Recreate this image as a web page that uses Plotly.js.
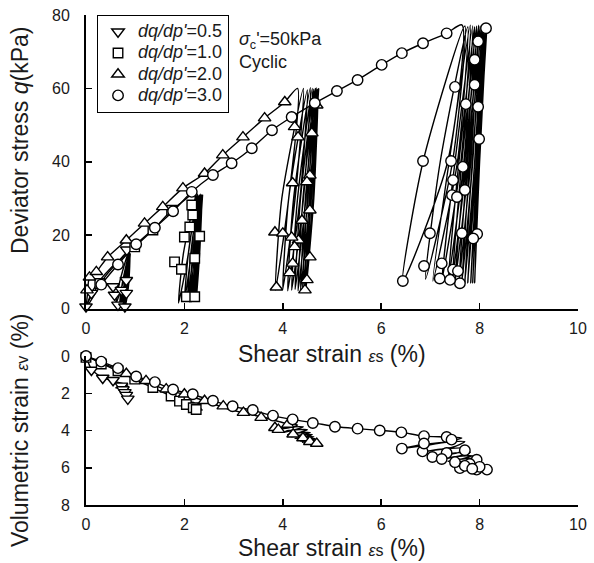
<!DOCTYPE html>
<html><head><meta charset="utf-8">
<script src="https://cdn.plot.ly/plotly-3.0.1.min.js"></script>
<style>html,body{margin:0;padding:0;background:#fff}</style>
</head><body><div id="chart" style="width:594px;height:563px"></div>
<script>
// ---------- tick values / labels ----------
const xTickVals = [0, 2, 4, 6, 8, 10];
const qTickVals = [0, 20, 40, 60, 80];
const evTickVals = [0, 2, 4, 6, 8];
const seriesNames = ["<i>dq/dp'</i>=0.5", "<i>dq/dp'</i>=1.0", "<i>dq/dp'</i>=2.0", "<i>dq/dp'</i>=3.0"];

// ---------- dq/dp' = 0.5 (inverted triangles) ----------
const s05LineEs = [0,0.11,0.3,0.5,0.7,0.85, 0.75,0.60,0.68,0.86, 0.79,0.68,0.74,0.87, 0.82,0.72,0.78,0.88, 0.84,0.75,0.80,0.885, 0.85,0.77,0.82,0.89, 0.86,0.79,0.83,0.895, 0.87,0.81,0.85,0.90];
const s05LineQ  = [0,4.2,8,11,13.5,15.5, 7,1,7,15.2, 7,0.8,7,14.8, 7,1.2,7,15, 7,1,7,15.2, 7,0.8,7,14.8, 7,1,7,15, 7,1,7,15];
const s05LineEv = [0,0.7,1.1,1.3,1.45,1.55, 1.65,1.7,1.72,1.75, 1.8,1.84,1.86,1.88, 1.92,1.95,1.97,1.99, 2.02,2.05,2.07,2.09, 2.12,2.15,2.17,2.19, 2.21,2.24,2.26,2.28, 2.3,2.32,2.33,2.34];
const s05MarkEsQ = [0,0.11,0.55,0.58,0.72,0.82,0.65,0.79,0.82,0.83];
const s05MarkQ   = [0.5,4.2,6,3.7,5,4.2,1,0.5,7.7,16];
const s05MarkEsV = [0.11,0.34,0.55,0.72,0.75,0.79,0.82,0.85];
const s05MarkEv  = [0.75,1.18,1.3,1.6,1.8,1.95,2.1,2.3];

// ---------- dq/dp' = 1.0 (squares) ----------
const s10LineEs = [0,0.05,0.28,0.6,0.99,1.36,1.74,2.0,2.2, 2.08,1.88,1.98,2.24, 2.14,2.0,2.08,2.27, 2.18,2.06,2.13,2.29, 2.21,2.10,2.17,2.31, 2.24,2.14,2.20,2.33, 2.26,2.17,2.23,2.34, 2.28,2.20,2.25,2.35, 2.30,2.22,2.27,2.36, 2.31,2.24,2.29,2.37];
const s10LineQ  = [0,2,6.8,12,16.8,21.4,26.8,29.5,31.5, 15,1.5,15,31, 15,2,15,31.2, 15,2.2,15,30.8, 15,1.8,15,31, 15,2,15,31.2, 15,2.2,15,30.8, 15,2,15,31, 15,2,15,31, 15,2,15,31];
const s10LineEv = [0,0.05,0.35,0.75,1.25,1.7,2.15,2.4,2.5, 2.55,2.6,2.6,2.62, 2.64,2.66,2.67,2.68, 2.7,2.71,2.72,2.73, 2.74,2.75,2.76,2.77, 2.78,2.79,2.8,2.8, 2.81,2.82,2.83,2.83, 2.84,2.85,2.85,2.86, 2.86,2.87,2.87,2.88, 2.88,2.89,2.89,2.9];
const s10MarkEsQ = [0.28,0.99,1.36,1.74,2.15,2.17,2.11,2.0,2.31,1.8,1.94,2.21,2.04,2.21];
const s10MarkQ   = [6.8,16.8,21.4,26.8,28.2,25.5,22.2,19.5,19.7,12.7,10.7,13.7,3.2,3.2];
const s10MarkEsV = [0,0.31,0.65,0.99,1.36,1.73,1.9,2.04,2.18,2.24];
const s10MarkEv  = [0.07,0.43,0.79,1.24,1.69,2.15,2.42,2.6,2.78,2.87];

// ---------- dq/dp' = 2.0 (triangles) ----------
const s20LineEs = [0,0.03,0.07,0.21,0.44,0.82,1.19,1.56,1.97,2.41,2.78,3.19,3.63,4.04,4.3,
  4.12,3.85,3.98,4.42, 4.25,4.0,4.12,4.50, 4.35,4.10,4.22,4.56, 4.42,4.18,4.30,4.60, 4.47,4.25,4.36,4.63,
  4.51,4.31,4.41,4.66, 4.55,4.36,4.46,4.68, 4.58,4.40,4.50,4.70, 4.61,4.44,4.54,4.72, 4.63,4.47,4.57,4.73];
const s20LineQ  = [0,4,8.5,10,14,18.6,23.2,27.7,32.8,36.8,41.8,46.7,51.9,56.3,60,
  30,5,30,60, 30,5.2,30,59.6, 30,4.8,30,60.2, 30,5,30,60, 30,5.2,30,59.8,
  30,4.8,30,60, 30,5,30,60.2, 30,5,30,59.8, 30,5,30,60, 30,5,30,60];
const s20LineEv = [0,0.05,0.1,0.25,0.5,0.9,1.3,1.75,2.05,2.4,2.75,3.05,3.3,3.6,3.7,
  3.85,3.95,3.85,3.8, 3.95,4.1,4.0,3.95, 4.1,4.22,4.15,4.1, 4.22,4.33,4.27,4.22, 4.33,4.43,4.37,4.33,
  4.42,4.5,4.45,4.42, 4.5,4.57,4.52,4.5, 4.57,4.63,4.6,4.58, 4.64,4.68,4.66,4.7, 4.7,4.73,4.71,4.72];
const s20MarkEsQ = [0.02,0.07,0.21,0.44,0.82,1.19,1.56,1.97,2.41,2.78,3.19,3.63,4.04,
  3.84,3.87,4.0,4.2,4.24,4.31,4.59,4.69,4.55,4.49,4.55,4.39,4.32,4.18,4.24,4.2,4.55,4.14,4.49,4.45];
const s20MarkQ   = [5,8.5,10,14,18.6,23.2,27.7,32.8,36.8,41.8,46.7,51.9,56.3,
  20.8,5.8,20.5,34.2,49.5,46.7,47.8,55.4,36.3,34.5,26.8,24,18.6,19.4,16.8,12.3,14,9.7,7.8,5];
const s20MarkEsV = [0.82,1.22,1.63,2.0,2.41,2.79,3.2,3.56,3.84,3.91,4.1,4.21,4.41,4.55,4.69];
const s20MarkEv  = [0.95,1.33,1.78,2.05,2.4,2.69,3.04,3.31,3.85,3.95,3.68,4.2,4.4,4.6,4.7];

// ---------- dq/dp' = 3.0 (circles) ----------
const s30LineEs = [0,0.31,0.65,1.02,1.4,1.77,2.15,2.58,2.96,3.37,3.78,4.18,4.65,5.1,5.52,6.01,6.42,6.85,7.33,7.64,
  7.35,6.44,6.85,7.70, 7.45,6.90,7.20,7.76, 7.55,7.05,7.38,7.81, 7.62,7.23,7.50,7.86, 7.68,7.36,7.58,7.90,
  7.73,7.44,7.64,7.94, 7.78,7.50,7.70,7.98, 7.82,7.58,7.75,8.01, 7.86,7.64,7.80,8.04, 7.90,7.70,7.85,8.07,
  7.93,7.76,7.90,8.10, 7.96,7.82,7.95,8.13, 7.98,7.86,7.97,8.14, 8.00,7.90,7.99,8.15];
const s30LineQ  = [0,6.5,12,17.5,22,26.5,31.8,36.4,39.6,43.7,48.6,52.2,56,59.3,62.3,66.4,69.6,72.3,75,77.3,
  40,7.5,40,77, 40,8,40,76.8, 40,7.5,40,77.2, 40,7.5,40,77, 40,7.2,40,76.8,
  40,7.2,40,77, 40,7,40,77.2, 40,7,40,77, 40,7,40,76.8, 40,7,40,77,
  40,7,40,77.2, 40,7,40,77, 40,7,40,76.8, 40,7,40,77];
const s30LineEv = [0,0.3,0.65,1.1,1.4,1.8,2.05,2.4,2.7,2.9,3.2,3.4,3.6,3.8,3.9,4.0,4.1,4.3,4.35,4.4,
  4.6,4.97,4.75,4.6, 4.9,5.12,5.0,4.95, 5.2,5.42,5.25,5.15, 5.35,5.53,5.4,5.35, 5.5,5.65,5.55,5.5,
  5.62,5.75,5.66,5.6, 5.72,5.85,5.75,5.7, 5.8,5.92,5.84,5.8, 5.87,5.98,5.9,5.88, 5.93,6.03,5.96,5.94,
  5.98,6.07,6.0,5.98, 6.03,6.1,6.05,6.05, 6.06,6.11,6.08,6.08, 6.08,6.12,6.1,6.1];
const s30MarkEsQ = [0.31,0.65,1.02,1.4,1.77,2.15,2.58,2.96,3.37,3.78,4.18,4.65,5.1,5.52,6.01,6.42,6.85,7.33,
  7.5,7.97,7.9,7.9,7.72,7.97,7.99,6.85,7.42,7.66,7.46,7.7,7.44,7.54,6.99,7.64,7.95,7.87,6.44,6.87,7.23,7.19,7.46,7.56,7.6,7.4,8.13];
const s30MarkQ   = [6.5,12,17.5,22,26.5,31.8,36.4,39.6,43.7,48.6,52.2,56,59.3,62.3,66.4,69.6,72.3,75,
  60.4,72.8,67.8,61,55.7,55,46.2,40.2,40.2,38.6,35,32.3,30.9,30.4,20.5,20.5,20.3,19.1,7.5,11.6,12.3,8.2,10.6,10.2,6.9,7.8,76.4];
const s30MarkEsV = [0,0.31,0.65,1.02,1.4,1.77,2.17,2.58,2.98,3.39,3.8,4.2,4.61,5.06,5.52,5.97,6.41,6.87,7.33,
  6.42,6.84,6.87,7.33,7.04,7.23,7.43,7.7,7.94,7.6,7.94,8.15,7.8,7.5,7.7,8.0,7.85];
const s30MarkEv  = [0,0.3,0.65,1.1,1.4,1.8,2.05,2.4,2.7,2.9,3.2,3.4,3.6,3.8,3.9,4.0,4.1,4.3,4.35,
  4.97,5.12,4.7,5.21,5.42,5.53,4.49,5.06,5.57,6.02,6.1,6.1,5.8,5.7,5.9,5.95,6.05];

// ---------- build traces ----------
const series = [
  {es:s05LineEs, q:s05LineQ, ev:s05LineEv, mq:[s05MarkEsQ,s05MarkQ], mv:[s05MarkEsV,s05MarkEv], sym:'triangle-down', size:11},
  {es:s10LineEs, q:s10LineQ, ev:s10LineEv, mq:[s10MarkEsQ,s10MarkQ], mv:[s10MarkEsV,s10MarkEv], sym:'square', size:9.5},
  {es:s20LineEs, q:s20LineQ, ev:s20LineEv, mq:[s20MarkEsQ,s20MarkQ], mv:[s20MarkEsV,s20MarkEv], sym:'triangle-up', size:11},
  {es:s30LineEs, q:s30LineQ, ev:s30LineEv, mq:[s30MarkEsQ,s30MarkQ], mv:[s30MarkEsV,s30MarkEv], sym:'circle', size:10.5}
];
const lineStyle = {color:'#000', width:1.4, shape:'spline', smoothing:0.7};
const traces = [];
series.forEach(s => {
  traces.push({x:s.es, y:s.q, xaxis:'x', yaxis:'y', mode:'lines', line:lineStyle, showlegend:false, hoverinfo:'skip'});
  traces.push({x:s.es, y:s.ev, xaxis:'x2', yaxis:'y2', mode:'lines', line:lineStyle, showlegend:false, hoverinfo:'skip'});
});
series.forEach((s, i) => {
  const mk = {symbol:s.sym, size:s.size, color:'#fff', line:{color:'#000', width:1.4}};
  traces.push({x:s.mq[0], y:s.mq[1], xaxis:'x', yaxis:'y', mode:'markers', marker:mk,
    name:"<span style='font-size:18px'>" + seriesNames[i] + "</span>", showlegend:true, cliponaxis:false});
  traces.push({x:s.mv[0], y:s.mv[1], xaxis:'x2', yaxis:'y2', mode:'markers', marker:mk, name:seriesNames[i], showlegend:false, cliponaxis:false});
});

const FONT = 'Liberation Sans, Arial, sans-serif';
const TXT = '#1a1a1a';
const axisCommon = {
  showline:true, linecolor:'#000', linewidth:2, ticks:'inside', ticklen:6, tickwidth:1.5, tickcolor:'#000',
  showgrid:false, zeroline:false, tickfont:{family:FONT, size:16, color:TXT}, mirror:false
};
const titleFont = {family:FONT, size:23, color:TXT};
const layout = {
  width:594, height:563, margin:{l:86, r:16, t:15, b:58},
  paper_bgcolor:'#fff', plot_bgcolor:'#fff',
  font:{family:FONT, color:TXT},
  xaxis: Object.assign({}, axisCommon, {domain:[0,1], range:[0,10], tickvals:xTickVals, anchor:'y', ticklabelstandoff:4}),
  yaxis: Object.assign({}, axisCommon, {domain:[0.401,1], range:[0,80], tickvals:qTickVals, anchor:'x', ticklabelstandoff:11}),
  xaxis2: Object.assign({}, axisCommon, {domain:[0,1], range:[0,10], tickvals:xTickVals, anchor:'y2', ticklabelstandoff:4}),
  yaxis2: Object.assign({}, axisCommon, {domain:[0,0.304], range:[8,0], tickvals:evTickVals, anchor:'x2', ticklabelstandoff:11}),
  showlegend:true,
  legend:{x:0.022, y:1.0, xanchor:'left', yanchor:'top', bgcolor:'#fff', bordercolor:'#000', borderwidth:1.2,
          font:{family:FONT, size:14, color:TXT}, tracegroupgap:0, itemwidth:30},
  annotations:[
    {text:"Shear strain <span style='font-size:16px'><i>ε</i>s</span> (%)", xref:'paper', yref:'paper', x:0.5, y:0.308, xanchor:'center', yanchor:'middle', showarrow:false, font:titleFont},
    {text:"Shear strain <span style='font-size:16px'><i>ε</i>s</span> (%)", xref:'paper', yref:'paper', x:0.5, y:-0.088, xanchor:'center', yanchor:'middle', showarrow:false, font:titleFont},
    {text:"Deviator stress <i>q</i>(kPa)", xref:'paper', yref:'paper', x:-0.134, y:0.745, xanchor:'center', yanchor:'middle', textangle:-90, showarrow:false, font:titleFont},
    {text:"Volumetric strain <span style='font-size:16px'><i>ε</i>v</span> (%)", xref:'paper', yref:'paper', x:-0.134, y:0.153, xanchor:'center', yanchor:'middle', textangle:-90, showarrow:false, font:titleFont},
    {text:"<i>σ</i><sub>c</sub>'=50kPa", xref:'paper', yref:'paper', x:0.307, y:0.947, xanchor:'left', yanchor:'middle', showarrow:false, font:{family:FONT, size:18, color:TXT}},
    {text:"Cyclic", xref:'paper', yref:'paper', x:0.307, y:0.905, xanchor:'left', yanchor:'middle', showarrow:false, font:{family:FONT, size:18, color:TXT}}
  ]
};
Plotly.newPlot('chart', traces, layout, {staticPlot:true, displayModeBar:false});
</script></body></html>
